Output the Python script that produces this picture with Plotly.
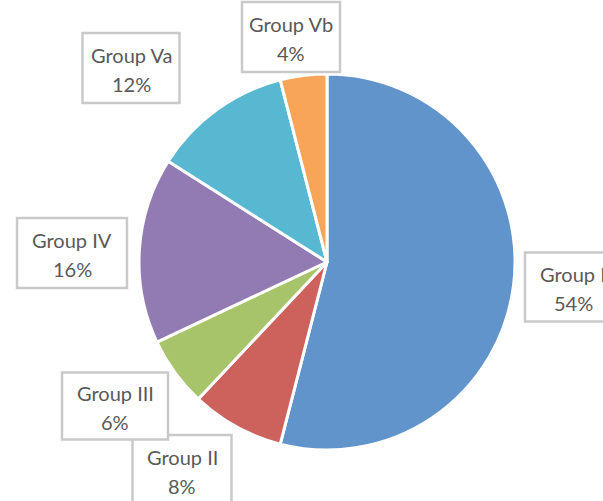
import plotly.graph_objects as go

labels = ["Group I", "Group II", "Group III", "Group IV", "Group Va", "Group Vb"]
values = [54, 8, 6, 16, 12, 4]
colors = ["#6094CB", "#CD625D", "#A8C46B", "#927BB3", "#58B8D1", "#F8A55A"]

W, H = 603, 501
# label box centers (px) and sizes
boxes = {
    "Group I": (573, 287, 96, 69),
    "Group II": (182, 470, 99, 70),
    "Group III": (115, 406, 106, 67),
    "Group IV": (72, 253, 110, 70),
    "Group Va": (131, 68, 97, 70),
    "Group Vb": (291, 37, 98, 70),
}

cx, cy, r = 327, 262, 188

fig = go.Figure()
fig.add_trace(go.Pie(
    labels=labels, values=values, sort=False, direction="clockwise", rotation=0,
    marker=dict(colors=colors, line=dict(color="white", width=3)),
    textinfo="none", hoverinfo="label+percent", showlegend=False,
    domain=dict(x=[(cx - r) / W, (cx + r) / W], y=[1 - (cy + r) / H, 1 - (cy - r) / H]),
))

def px(x):
    return x / W

def py(y):
    return 1 - y / H

shapes = []
annotations = []
for lab, val in zip(labels, values):
    bx, by, bw, bh = boxes[lab]
    shapes.append(dict(type="rect", xref="paper", yref="paper",
                       x0=px(bx - bw / 2), x1=px(bx + bw / 2),
                       y0=py(by + bh / 2), y1=py(by - bh / 2),
                       line=dict(color="#C9C9C9", width=2.5), fillcolor="white", layer="above"))
    annotations.append(dict(text=lab, x=px(bx), y=py(by - 13), xref="paper", yref="paper",
                            showarrow=False, xanchor="center", yanchor="middle",
                            font=dict(family="Lato", size=20, color="#595959")))
    annotations.append(dict(text=f"{val}%", x=px(bx), y=py(by + 16), xref="paper", yref="paper",
                            showarrow=False, xanchor="center", yanchor="middle",
                            font=dict(family="Lato", size=20, color="#595959")))

fig.update_layout(
    width=W, height=H, margin=dict(l=0, r=0, t=0, b=0),
    paper_bgcolor="white", plot_bgcolor="white",
    shapes=shapes, annotations=annotations,
)

fig.write_html("out.html", config={"displayModeBar": False},
               post_script="document.body.style.margin='0';")
